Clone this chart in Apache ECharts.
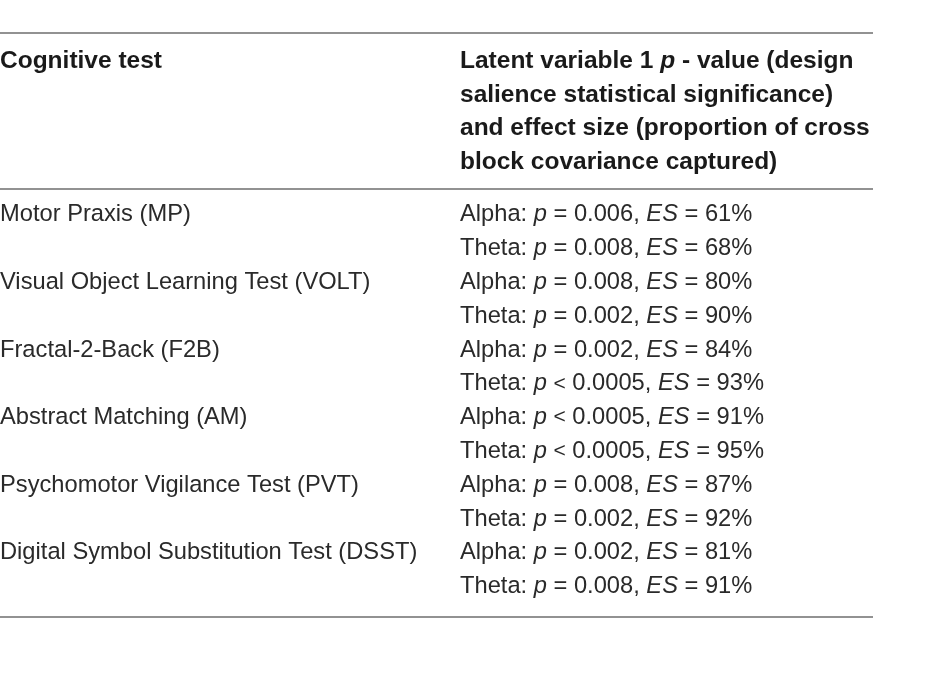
<!DOCTYPE html>
<html>
<head>
<meta charset="utf-8">
<script src="https://cdn.jsdelivr.net/npm/echarts@6/dist/echarts.min.js"></script>
<style>
  html, body { margin: 0; padding: 0; background: #fff; }
  #chart { width: 950px; height: 675px; }
</style>
</head>
<body>
<div id="chart"></div>
<script>
// table contents
const tests = [
  "Motor Praxis (MP)",
  "Visual Object Learning Test (VOLT)",
  "Fractal-2-Back (F2B)",
  "Abstract Matching (AM)",
  "Psychomotor Vigilance Test (PVT)",
  "Digital Symbol Substitution Test (DSST)"
];
const bands = ["Alpha", "Theta"];
// [test][band] -> p relation, p value, effect size %
const pRel = [["=", "="], ["=", "="], ["=", "<"], ["<", "<"], ["=", "="], ["=", "="]];
const pVal = [["0.006", "0.008"], ["0.008", "0.002"], ["0.002", "0.0005"], ["0.0005", "0.0005"], ["0.008", "0.002"], ["0.002", "0.008"]];
const esVal = [[61, 68], [80, 90], [84, 93], [91, 95], [87, 92], [81, 91]];

const header1 = "Cognitive test";
const header2 = [
  "Latent variable 1 {i|p} - value (design",
  "salience statistical significance)",
  "and effect size (proportion of cross",
  "block covariance captured)"
];

// row positions in line units (0 = first header line)
const bodyStart = 4.55;
const rules = [-0.83, 3.77, 16.45];
const ruleEnd = 873;
const col2 = 460;

const font = "'Liberation Sans', Arial, sans-serif";

const headerData = [];
headerData.push({ value: [0, 0], label: { formatter: header1 } });
header2.forEach((t, k) => headerData.push({ value: [col2, k], label: { formatter: t } }));

const bodyData = [];
tests.forEach((name, i) => {
  const r0 = bodyStart + i * 2;
  bodyData.push({ value: [0, r0], label: { formatter: name } });
  bands.forEach((b, j) => {
    const rel = pRel[i][j] === "<" ? "{s|<}" : "=";
    bodyData.push({
      value: [col2, r0 + j],
      label: { formatter: b + ": {i|p} " + rel + " " + pVal[i][j] + ", {i|ES} = " + esVal[i][j] + "%" }
    });
  });
});

const chart = echarts.init(document.getElementById("chart"));
chart.setOption({
  animation: false,
  grid: { left: 0, right: 0, top: 27.2, bottom: 39.4 },
  xAxis: { type: "value", min: 0, max: 950, show: false },
  yAxis: { type: "value", min: -1, max: 17, inverse: true, show: false },
  series: [
    {
      type: "scatter",
      symbolSize: 0,
      itemStyle: { opacity: 1 },
      data: headerData,
      label: {
        show: true, position: "right", distance: 0,
        fontFamily: font, fontSize: 24.5, fontWeight: "bold", color: "#1a1a1a",
        rich: { i: { fontFamily: font, fontSize: 24.5, fontStyle: "italic", fontWeight: "bold", color: "#1a1a1a" } }
      },
      markLine: {
        silent: true, symbol: "none", label: { show: false },
        lineStyle: { color: "#6e6e6e", width: 1.5, type: "solid", opacity: 1 },
        data: rules.map(v => [{ coord: [0, v] }, { coord: [ruleEnd, v] }])
      }
    },
    {
      type: "scatter",
      symbolSize: 0,
      itemStyle: { opacity: 1 },
      data: bodyData,
      label: {
        show: true, position: "right", distance: 0,
        fontFamily: font, fontSize: 23.7, color: "#2a2a2a",
        rich: {
          i: { fontFamily: font, fontSize: 23.7, fontStyle: "italic", color: "#2a2a2a" },
          s: { fontFamily: font, fontSize: 21, color: "#2a2a2a" }
        }
      }
    }
  ]
});
</script>
</body>
</html>
